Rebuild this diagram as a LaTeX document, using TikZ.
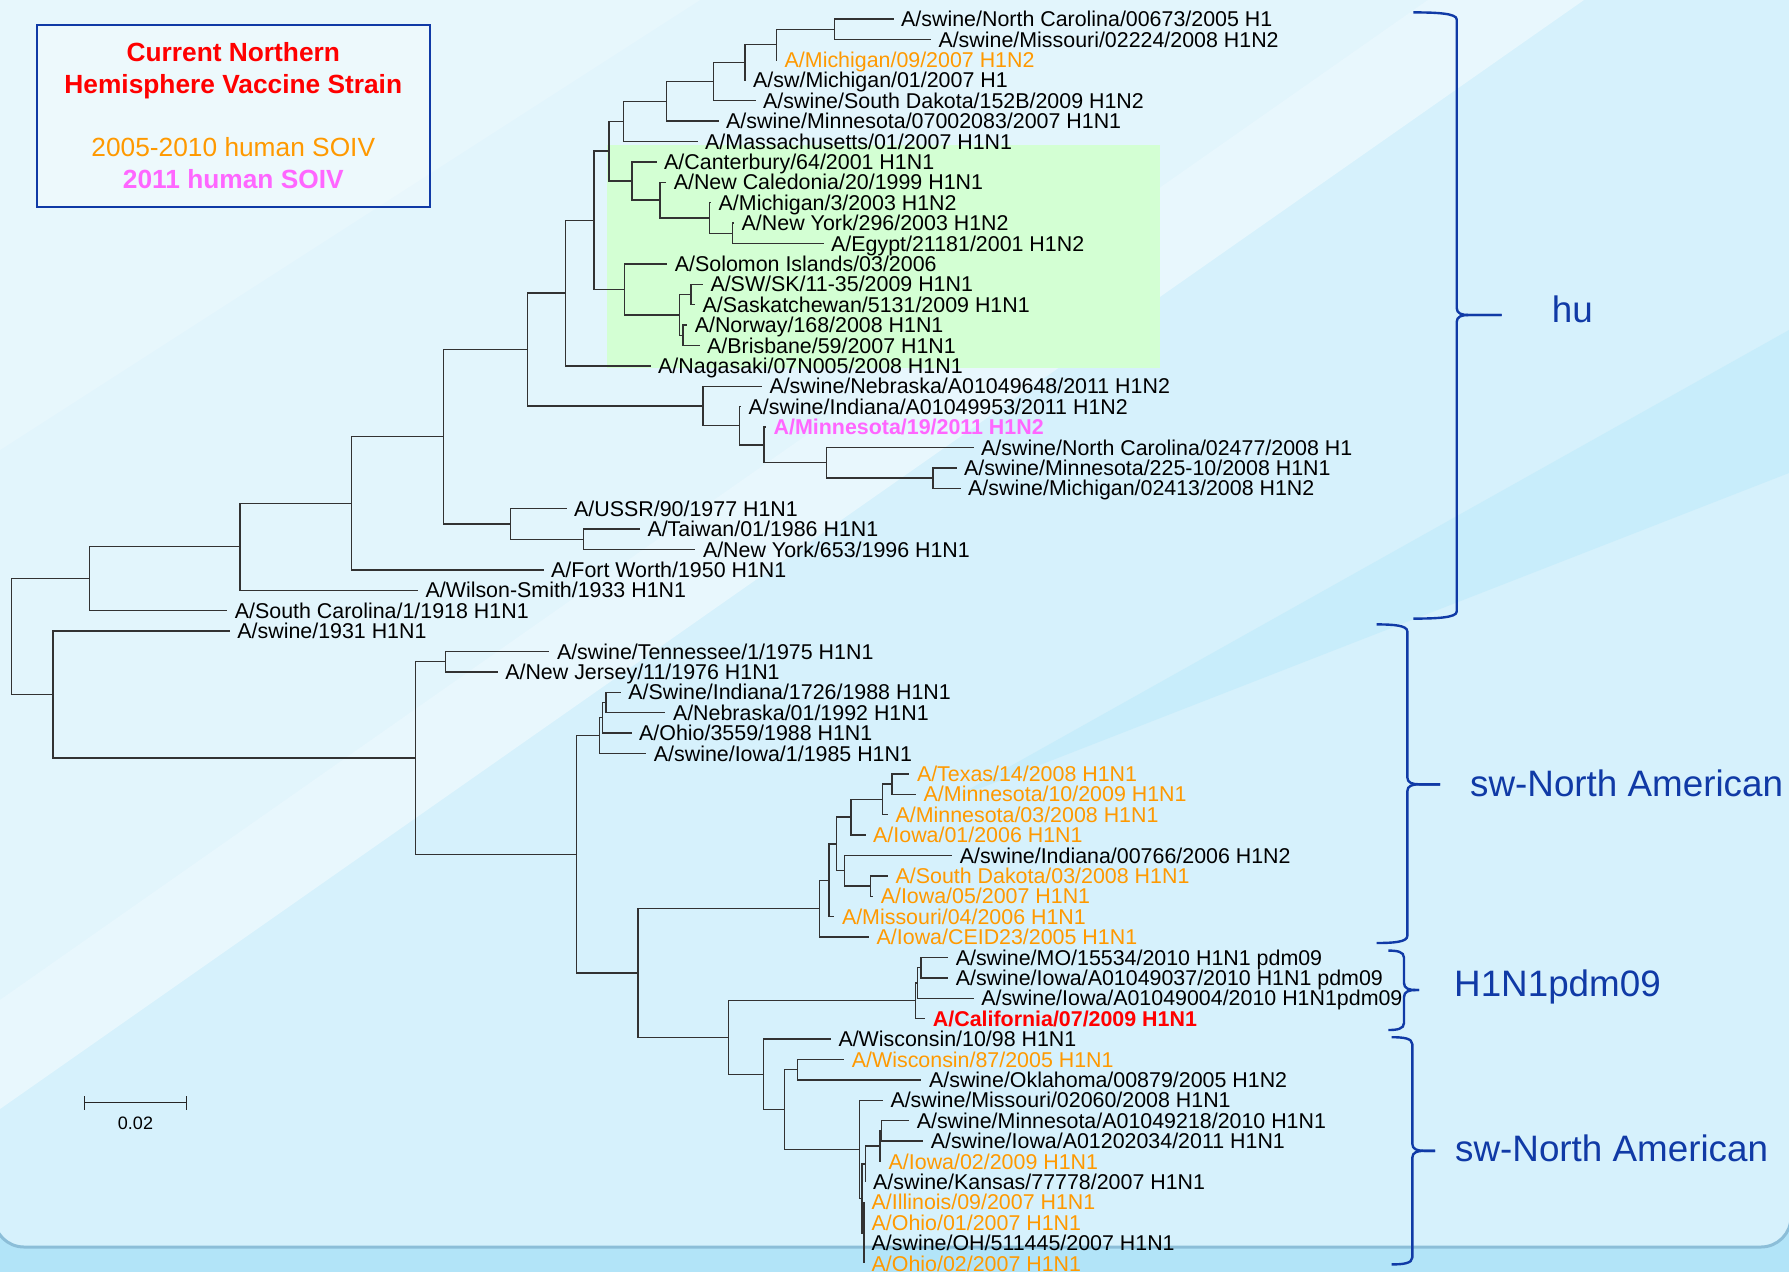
\documentclass[tikz,border=0pt]{standalone}
\usepackage{fontspec}
\setmainfont{Liberation Sans}
\usetikzlibrary{calc}
\definecolor{bgmain}{RGB}{214,241,252}
\definecolor{bglow}{RGB}{178,228,248}
\definecolor{panelline}{RGB}{140,190,216}
\definecolor{banddark}{RGB}{200,237,251}
\definecolor{hlgreen}{RGB}{211,255,211}
\definecolor{soivor}{RGB}{255,153,0}
\definecolor{soivmg}{RGB}{255,102,255}
\definecolor{vacred}{RGB}{255,0,0}
\definecolor{cladeblue}{RGB}{16,58,166}
\definecolor{branchc}{RGB}{50,50,50}
\newcommand\lblfont{\fontsize{21.4}{24}\selectfont}
\newcommand\legfont{\fontsize{26.3}{30}\selectfont}
\newcommand\cladefont{\fontsize{36.8}{42}\selectfont}
\newcommand\cbrace[6]{%
 \draw[brc] (#1,#4) .. controls ({#2-0.45*(#2-#1)},#4) and (#2,{#4+1}) .. (#2,{#4+7}) -- (#2,{#5-7}) .. controls (#2,{#5-1.5}) and ({#2+5},#5) .. ({#2+12},#5) -- (#3,#5);
 \draw[brc] (#3,#5) -- ({#2+12},#5) .. controls ({#2+5},#5) and (#2,{#5+1.5}) .. (#2,{#5+7}) -- (#2,{#6-7}) .. controls (#2,{#6-1}) and ({#2-0.45*(#2-#1)},#6) .. (#1,#6);
}
\tikzset{
 lab/.style={anchor=west, inner xsep=7.5pt, inner ysep=0pt, text height=15.3pt, text depth=0pt, font=\lblfont, text=black},
 orl/.style={lab, text=soivor},
 mgl/.style={lab, text=soivmg, font=\lblfont\bfseries},
 rdl/.style={lab, text=vacred, font=\lblfont\bfseries},
 br/.style={draw=branchc, line width=1.4pt},
 brc/.style={draw=cladeblue, line width=2.4pt},
 clade/.style={anchor=base west, inner sep=0pt, font=\cladefont, text=cladeblue},
 leg/.style={anchor=base, inner sep=0pt, font=\legfont},
 sbar/.style={draw=black!85, line width=1.3pt}
}
\begin{document}
\begin{tikzpicture}[x=1pt,y=-1pt]
\useasboundingbox (0,0) rectangle (1789,1272);
% background
\fill[bglow] (0,0) rectangle (1789,1272);
\begin{scope}
\clip[rounded corners=30pt] (-6,-40) rectangle (1791,1247);
\fill[bgmain] (-6,-40) rectangle (1791,1247);
\fill[white, opacity=.3] (0,0) -- (1428,0) -- (0,1000) -- cycle;
\fill[white, opacity=.45] (1428,0) -- (1584,0) -- (0,1109) -- (0,1000) -- cycle;
\fill[white, opacity=.2] (0,0) -- (700,0) -- (0,450) -- cycle;
\fill[banddark] (1789,330) -- (1789,473) -- (950,800) -- cycle;
\end{scope}
\draw[panelline, line width=3pt, rounded corners=30pt] (-6,-40) rectangle (1791,1247);
% highlight
\fill[hlgreen] (607.2,145) rectangle (1160,368.3);
% legend
\node[draw=cladeblue, line width=2.2pt, fill=white, fill opacity=.25, minimum width=393.3pt, minimum height=181.7pt, inner sep=0pt] (legend) at (233.3,115.85) {};
\node[leg, text=vacred, font=\legfont\bfseries] (lg1) at (233.3,61.7) {Current Northern};
\node[leg, text=vacred, font=\legfont\bfseries] (lg2) at (233.3,93.3) {Hemisphere Vaccine Strain};
\node[leg, text=soivor] (lg3) at (233.3,156.7) {2005-2010 human SOIV};
\node[leg, text=soivmg, font=\legfont\bfseries] (lg4) at (233.3,188.3) {2011 human SOIV};
% leaves
\node[lab] (L1) at (893.5,19) {A/swine/North Carolina/00673/2005 H1};
\node[lab] (L2) at (930.8,39.4) {A/swine/Missouri/02224/2008 H1N2};
\node[orl] (L3) at (777,59.8) {A/Michigan/09/2007 H1N2};
\node[lab] (L4) at (745.5,80.2) {A/sw/Michigan/01/2007 H1};
\node[lab] (L5) at (755.5,100.6) {A/swine/South Dakota/152B/2009 H1N2};
\node[lab] (L6) at (718.5,121) {A/swine/Minnesota/07002083/2007 H1N1};
\node[lab] (L7) at (697.5,141.4) {A/Massachusetts/01/2007 H1N1};
\node[lab] (L8) at (656.5,161.8) {A/Canterbury/64/2001 H1N1};
\node[lab] (L9) at (666.1,182.2) {A/New Caledonia/20/1999 H1N1};
\node[lab] (L10) at (711,202.6) {A/Michigan/3/2003 H1N2};
\node[lab] (L11) at (734,223) {A/New York/296/2003 H1N2};
\node[lab] (L12) at (823.5,243.4) {A/Egypt/21181/2001 H1N2};
\node[lab] (L13) at (667.2,263.8) {A/Solomon Islands/03/2006};
\node[lab] (L14) at (702.8,284.2) {A/SW/SK/11-35/2009 H1N1};
\node[lab] (L15) at (694.9,304.6) {A/Saskatchewan/5131/2009 H1N1};
\node[lab] (L16) at (687.1,325) {A/Norway/168/2008 H1N1};
\node[lab] (L17) at (699.5,345.4) {A/Brisbane/59/2007 H1N1};
\node[lab] (L18) at (650.5,365.8) {A/Nagasaki/07N005/2008 H1N1};
\node[lab] (L19) at (761.8,386.2) {A/swine/Nebraska/A01049648/2011 H1N2};
\node[lab] (L20) at (741,406.6) {A/swine/Indiana/A01049953/2011 H1N2};
\node[mgl] (L21) at (766,427) {A/Minnesota/19/2011 H1N2};
\node[lab] (L22) at (973.5,447.4) {A/swine/North Carolina/02477/2008 H1};
\node[lab] (L23) at (956.5,467.8) {A/swine/Minnesota/225-10/2008 H1N1};
\node[lab] (L24) at (960.5,488.2) {A/swine/Michigan/02413/2008 H1N2};
\node[lab] (L25) at (566.5,508.6) {A/USSR/90/1977 H1N1};
\node[lab] (L26) at (639.8,529) {A/Taiwan/01/1986 H1N1};
\node[lab] (L27) at (695.3,549.4) {A/New York/653/1996 H1N1};
\node[lab] (L28) at (543.5,569.8) {A/Fort Worth/1950 H1N1};
\node[lab] (L29) at (417.9,590.2) {A/Wilson-Smith/1933 H1N1};
\node[lab] (L30) at (227.2,610.6) {A/South Carolina/1/1918 H1N1};
\node[lab] (L31) at (229.7,631) {A/swine/1931 H1N1};
\node[lab] (L32) at (549.3,651.4) {A/swine/Tennessee/1/1975 H1N1};
\node[lab] (L33) at (497.6,671.8) {A/New Jersey/11/1976 H1N1};
\node[lab] (L34) at (620.7,692.2) {A/Swine/Indiana/1726/1988 H1N1};
\node[lab] (L35) at (665.3,712.6) {A/Nebraska/01/1992 H1N1};
\node[lab] (L36) at (631.5,733) {A/Ohio/3559/1988 H1N1};
\node[lab] (L37) at (646.2,753.4) {A/swine/Iowa/1/1985 H1N1};
\node[orl] (L38) at (909.3,773.8) {A/Texas/14/2008 H1N1};
\node[orl] (L39) at (916,794.2) {A/Minnesota/10/2009 H1N1};
\node[orl] (L40) at (887.9,814.6) {A/Minnesota/03/2008 H1N1};
\node[orl] (L41) at (865.5,835) {A/Iowa/01/2006 H1N1};
\node[lab] (L42) at (952.2,855.4) {A/swine/Indiana/00766/2006 H1N2};
\node[orl] (L43) at (887.9,875.8) {A/South Dakota/03/2008 H1N1};
\node[orl] (L44) at (873.1,896.2) {A/Iowa/05/2007 H1N1};
\node[orl] (L45) at (834.3,916.6) {A/Missouri/04/2006 H1N1};
\node[orl] (L46) at (869,937) {A/Iowa/CEID23/2005 H1N1};
\node[lab] (L47) at (948.1,957.4) {A/swine/MO/15534/2010 H1N1 pdm09};
\node[lab] (L48) at (948.1,977.8) {A/swine/Iowa/A01049037/2010 H1N1 pdm09};
\node[lab] (L49) at (973.6,998.2) {A/swine/Iowa/A01049004/2010 H1N1pdm09};
\node[rdl] (L50) at (925.2,1018.6) {A/California/07/2009 H1N1};
\node[lab] (L51) at (830.8,1039) {A/Wisconsin/10/98 H1N1};
\node[orl] (L52) at (844.2,1059.4) {A/Wisconsin/87/2005 H1N1};
\node[lab] (L53) at (921.4,1079.8) {A/swine/Oklahoma/00879/2005 H1N2};
\node[lab] (L54) at (882.8,1100.2) {A/swine/Missouri/02060/2008 H1N1};
\node[lab] (L55) at (909.1,1120.6) {A/swine/Minnesota/A01049218/2010 H1N1};
\node[lab] (L56) at (923.1,1141) {A/swine/Iowa/A01202034/2011 H1N1};
\node[orl] (L57) at (881,1161.4) {A/Iowa/02/2009 H1N1};
\node[lab] (L58) at (865.5,1181.8) {A/swine/Kansas/77778/2007 H1N1};
\node[orl] (L59) at (864,1202.2) {A/Illinois/09/2007 H1N1};
\node[orl] (L60) at (864,1222.6) {A/Ohio/01/2007 H1N1};
\node[lab] (L61) at (864,1243) {A/swine/OH/511445/2007 H1N1};
\node[orl] (L62) at (864,1263.4) {A/Ohio/02/2007 H1N1};
% internal nodes
\coordinate (a12) at (834.7,29.2);
\coordinate (a123) at (776.2,44.5);
\coordinate (a1234) at (744.8,62.35);
\coordinate (a15) at (713.4,81.5);
\coordinate (a16) at (666.3,101.25);
\coordinate (a17) at (623.4,121.3);
\coordinate (g1112) at (732.7,233.2);
\coordinate (g1012) at (709.2,217.9);
\coordinate (g912) at (660,200.05);
\coordinate (g812) at (631.8,180.9);
\coordinate (a112) at (608.8,151.1);
\coordinate (g1415) at (690.9,294.4);
\coordinate (g1617) at (683,335.2);
\coordinate (g1417) at (679.4,314.8);
\coordinate (g1317) at (624.5,289.3);
\coordinate (a117) at (594.1,220.2);
\coordinate (a118) at (565.4,293);
\coordinate (b2324) at (933,478);
\coordinate (b2224) at (826.4,462.7);
\coordinate (b2124) at (764.1,444.85);
\coordinate (b2024) at (739.5,425.7);
\coordinate (b1924) at (702.9,405.95);
\coordinate (a124) at (527.2,349.5);
\coordinate (c2627) at (583.5,539.2);
\coordinate (c2527) at (510.2,523.9);
\coordinate (a127) at (443.2,436.7);
\coordinate (a128) at (351.4,503.25);
\coordinate (a129) at (239.8,546.7);
\coordinate (nHu) at (89.3,578.65);
\coordinate (d3233) at (445.2,661.6);
\coordinate (d3435) at (605.9,702.4);
\coordinate (d3436) at (602.7,717.7);
\coordinate (d3437) at (599.5,735.55);
\coordinate (e3839) at (891.8,784);
\coordinate (e3840) at (882.7,799.3);
\coordinate (e3841) at (851,817.15);
\coordinate (e4344) at (870.4,886);
\coordinate (e4244) at (844.4,870.7);
\coordinate (e3844) at (836.7,843.9);
\coordinate (e3845) at (829.1,880.25);
\coordinate (e3846) at (819.4,908.6);
\coordinate (f4748) at (920.9,967.6);
\coordinate (f4749) at (917.3,982.9);
\coordinate (f4750) at (915.3,1000.75);
\coordinate (h5253) at (797.4,1069.6);
\coordinate (h5556) at (881.2,1130.8);
\coordinate (h5557) at (879.8,1146.1);
\coordinate (hC2) at (865.5,1163.95);
\coordinate (hC3) at (864,1232.8);
\coordinate (hC1) at (862,1198.4);
\coordinate (h5462) at (859.4,1149.3);
\coordinate (h5262) at (784.4,1109.45);
\coordinate (h5162) at (763.3,1074.2);
\coordinate (f4762) at (728.6,1037.5);
\coordinate (d3862) at (637.8,973.05);
\coordinate (d3462) at (576.5,854.3);
\coordinate (d3262) at (415.2,757.95);
\coordinate (nSw) at (52.9,694.5);
\coordinate (nRoot) at (11.5,636.6);
% branches
\foreach \p/\c in {a12/L1.west, a12/L2.west, a123/a12, a123/L3.west, a1234/a123, a1234/L4.west,
 a15/a1234, a15/L5.west, a16/a15, a16/L6.west, a17/a16, a17/L7.west,
 g1112/L11.west, g1112/L12.west, g1012/L10.west, g1012/g1112, g912/L9.west, g912/g1012,
 g812/L8.west, g812/g912, a112/a17, a112/g812,
 g1415/L14.west, g1415/L15.west, g1617/L16.west, g1617/L17.west, g1417/g1415, g1417/g1617,
 g1317/L13.west, g1317/g1417, a117/a112, a117/g1317, a118/a117, a118/L18.west,
 b2324/L23.west, b2324/L24.west, b2224/L22.west, b2224/b2324, b2124/L21.west, b2124/b2224,
 b2024/L20.west, b2024/b2124, b1924/L19.west, b1924/b2024, a124/a118, a124/b1924,
 c2627/L26.west, c2627/L27.west, c2527/L25.west, c2527/c2627, a127/a124, a127/c2527,
 a128/a127, a128/L28.west, a129/a128, a129/L29.west, nHu/a129, nHu/L30.west,
 d3233/L32.west, d3233/L33.west, d3435/L34.west, d3435/L35.west, d3436/d3435, d3436/L36.west,
 d3437/d3436, d3437/L37.west,
 e3839/L38.west, e3839/L39.west, e3840/e3839, e3840/L40.west, e3841/e3840, e3841/L41.west,
 e4344/L43.west, e4344/L44.west, e4244/L42.west, e4244/e4344, e3844/e3841, e3844/e4244,
 e3845/e3844, e3845/L45.west, e3846/e3845, e3846/L46.west,
 f4748/L47.west, f4748/L48.west, f4749/f4748, f4749/L49.west, f4750/f4749, f4750/L50.west,
 h5253/L52.west, h5253/L53.west, h5556/L55.west, h5556/L56.west, h5557/h5556, h5557/L57.west,
 hC2/h5557, hC2/L58.west, hC3/L59.west, hC3/L60.west, hC3/L61.west, hC3/L62.west,
 hC1/hC2, hC1/hC3, h5462/L54.west, h5462/hC1, h5262/h5253, h5262/h5462,
 h5162/L51.west, h5162/h5262, f4762/f4750, f4762/h5162, d3862/e3846, d3862/f4762,
 d3462/d3437, d3462/d3862, d3262/d3233, d3262/d3462, nSw/L31.west, nSw/d3262,
 nRoot/nHu, nRoot/nSw}
 \draw[br] (\p) |- (\c);
% scale bar
\coordinate (sb1) at (84.3,1102.7);
\coordinate (sb2) at (186.7,1102.7);
\draw[sbar] (sb1) -- (sb2);
\draw[sbar] ([yshift=-7pt]sb1) -- ([yshift=7pt]sb1);
\draw[sbar] ([yshift=-7pt]sb2) -- ([yshift=7pt]sb2);
\node[anchor=base, inner sep=0pt, font=\fontsize{18}{20}\selectfont] (sbl) at (135.5,1129.3) {0.02};
% clade braces
\cbrace{1413.3}{1456.7}{1501.7}{12.4}{315}{618.6}
\cbrace{1376.7}{1407.3}{1440}{624.4}{784.3}{943}
\cbrace{1388.3}{1404}{1419}{950.6}{990}{1030}
\cbrace{1391.7}{1412.3}{1435}{1037.2}{1150.8}{1264.4}
\node[clade] (cHu) at (1551.7,322.6) {hu};
\node[clade] (cSw1) at (1470,796.3) {sw-North American};
\node[clade] (cPdm) at (1454,996.5) {H1N1pdm09};
\node[clade] (cSw2) at (1455,1161.5) {sw-North American};
\end{tikzpicture}
\end{document}
